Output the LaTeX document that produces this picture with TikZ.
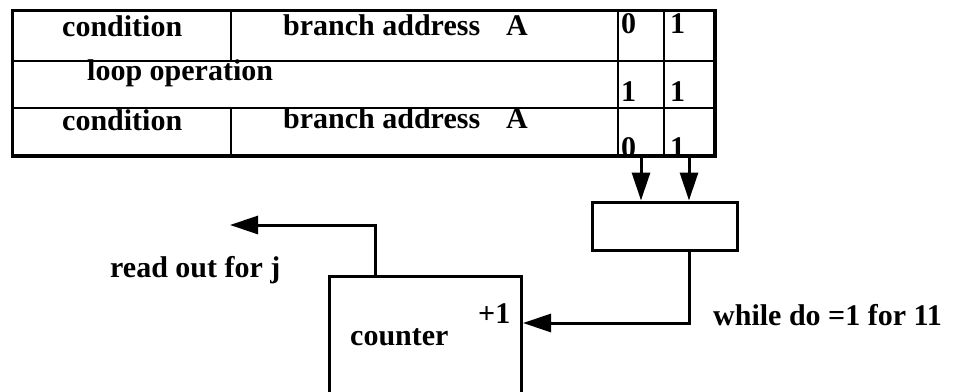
\documentclass[tikz,border=0pt]{standalone}
\usepackage{fontspec}
\setmainfont{Liberation Serif}
\usetikzlibrary{arrows.meta}

\begin{document}
\begin{tikzpicture}[
    x=1pt, y=-1pt,
    font=\fontsize{30}{36}\selectfont\bfseries,
    cell/.style={draw, line width=2pt, inner sep=0pt, anchor=north west},
    lbl/.style={anchor=base west, inner sep=0pt},
    blk/.style={draw, line width=3pt, inner sep=0pt},
    arr/.style={-{Triangle[length=28pt, width=18pt]}, line width=3pt},
]

% Picture frame
\clip (0,0) rectangle (956,391);

% Table rows (y) and columns (x)
\def\ra{10}
\def\rb{60}
\def\rc{107}
\def\rd{154}
\def\ca{12}
\def\cb{230}
\def\cc{617}
\def\cd{663}
\def\ce{713}

% Row 1
\node[cell, minimum width=218pt, minimum height=50pt] (cond1) at (\ca,\ra) {};
\node[cell, minimum width=387pt, minimum height=50pt] (addr1) at (\cb,\ra) {};
\node[cell, minimum width=46pt, minimum height=50pt] (bitA1) at (\cc,\ra) {};
\node[cell, minimum width=50pt, minimum height=50pt] (bitB1) at (\cd,\ra) {};

% Row 2
\node[cell, minimum width=605pt, minimum height=47pt] (loop) at (\ca,\rb) {};
\node[cell, minimum width=46pt, minimum height=47pt] (bitA2) at (\cc,\rb) {};
\node[cell, minimum width=50pt, minimum height=47pt] (bitB2) at (\cd,\rb) {};

% Row 3
\node[cell, minimum width=218pt, minimum height=47pt] (cond3) at (\ca,\rc) {};
\node[cell, minimum width=387pt, minimum height=47pt] (addr3) at (\cb,\rc) {};
\node[cell, minimum width=46pt, minimum height=47pt] (bitA3) at (\cc,\rc) {};
\node[cell, minimum width=50pt, minimum height=47pt] (bitB3) at (\cd,\rc) {};

% Table texts
\node[lbl] (tcond1) at (62,36) {condition};
\node[lbl] (taddr1) at (283,35) {branch address\hspace{26pt}A};
\node[lbl] (tbitA1) at (621,33) {0};
\node[lbl] (tbitB1) at (670,33) {1};
\node[lbl] (tloop) at (87,80) {loop operation};
\node[lbl] (tbitA2) at (621,101) {1};
\node[lbl] (tbitB2) at (670,101) {1};
\node[lbl] (tcond3) at (62,130) {condition};
\node[lbl] (taddr3) at (283,128) {branch address\hspace{26pt}A};
\node[lbl] (tbitA3) at (621,157) {0};
\node[lbl] (tbitB3) at (670,157) {1};

% Outer frame of the table
\draw[line width=3pt] (cond1.north west) rectangle (bitB3.south east);

% Selector and counter
\node[blk, minimum width=145pt, minimum height=48pt] (mux) at (664.5,226) {};
\node[blk, anchor=north west, minimum width=192pt, minimum height=160pt] (counter) at (328,275) {};
\node[lbl] (tcount) at (350,345) {counter};
\node[lbl] (plusone) at (478,323) {+1};

% Side texts
\node[lbl] (treadj) at (110,277) {read out for j};
\node[lbl] (twhile) at (713,325) {while do =1 for 11};
\coordinate (readend) at (230,225);

% Connectors
\draw[arr] (bitA3.south) -- (bitA3.south |- mux.north);
\draw[arr] (bitB3.south) -- (bitB3.south |- mux.north);
\draw[arr] (bitB3.south |- mux.south) |- ([yshift=-48pt]counter.north east);
\draw[arr] ([xshift=47pt]counter.north west) |- (readend);

\end{tikzpicture}
\end{document}
